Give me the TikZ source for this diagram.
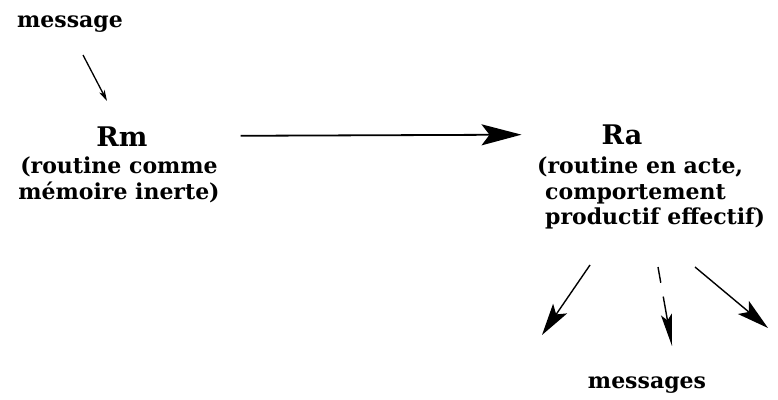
\documentclass[tikz,border=0pt]{standalone}
\usepackage{fontspec}
\setmainfont{DejaVu Serif}
\usetikzlibrary{arrows.meta}
\begin{document}
\begin{tikzpicture}[x=1pt,y=-1pt,
  txt/.style={font=\fontsize{22}{25.5}\selectfont\bfseries, inner sep=0pt},
  big/.style={font=\fontsize{27}{30}\selectfont\bfseries, inner sep=0pt},
  mainarrow/.style={line width=1.8pt, -{Stealth[length=40pt,width=21pt,inset=8pt]}},
  outarrow/.style={line width=1.4pt, -{Stealth[length=32pt,width=17pt,inset=7pt]}},
  narrowarrow/.style={line width=1.4pt, -{Stealth[length=32pt,width=11pt,inset=6pt]}},
  smallarrow/.style={line width=1.3pt, -{Stealth[length=11pt,width=6pt,inset=3pt]}}]
\path[use as bounding box] (0,0) rectangle (778,399);

\node[txt, anchor=base] (msg) at (70,27) {message};
\node[big, anchor=base] (Rm) at (122,146) {Rm};
\node[txt, align=center, anchor=north] (rmtext) at (119,157) {(routine comme\\mémoire inerte)};
\node[big, anchor=base] (Ra) at (622,144) {Ra};
\node[txt, align=left, anchor=north west] (ratext) at (545,157) {\hspace*{-8pt}(routine en acte,\\comportement\\productif effectif)};
\node[txt, anchor=base] (msgs) at (647,388) {messages};

\coordinate (m1) at (83,55);
\coordinate (m2) at (107,101);
\draw[smallarrow] (m1) -- (m2);

\draw[mainarrow, shorten <=93pt, shorten >=80pt] (Rm.east) -- (Ra.west);

\coordinate (a1) at (590,265);
\coordinate (a2) at (542,335);
\coordinate (b1) at (658,267);
\coordinate (b2) at (672,346);
\coordinate (c1) at (695,267);
\coordinate (c2) at (768,328);
\draw[outarrow] (a1) -- (a2);
\draw[narrowarrow, dash pattern=on 16pt off 14pt on 200pt off 1pt] (b1) -- (b2);
\draw[outarrow] (c1) -- (c2);
\end{tikzpicture}
\end{document}
